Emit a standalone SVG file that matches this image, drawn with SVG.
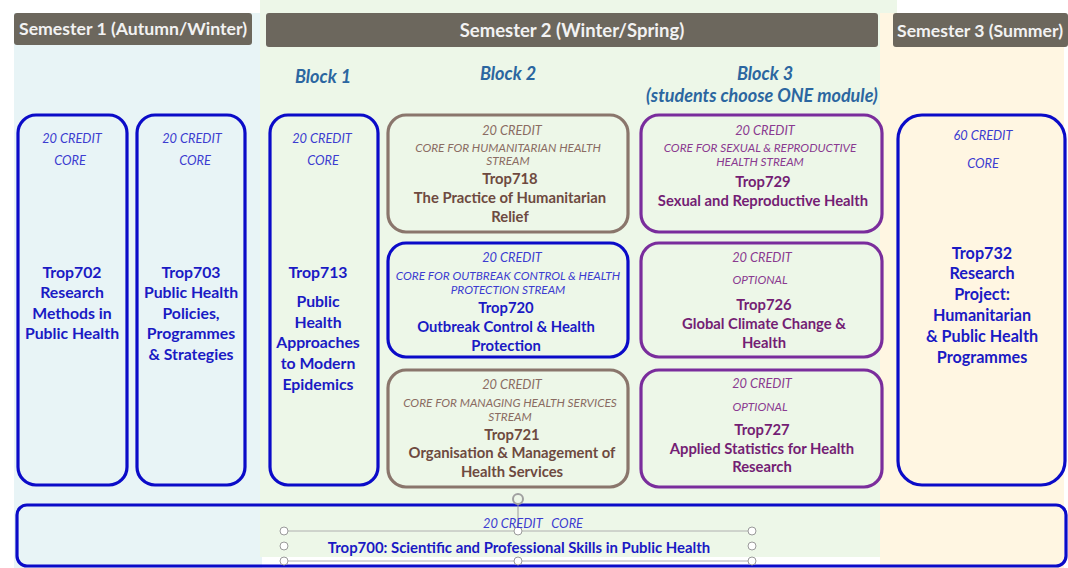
<svg xmlns="http://www.w3.org/2000/svg" width="1068" height="568" viewBox="0 0 1068 568">
<style>
text{font-family:Lato,"Open Sans","Liberation Sans",sans-serif;text-anchor:middle}
.hdr{fill:#6c675d}
.htx{fill:#f2f2f2;font-weight:bold;font-size:17.5px}
.blk{fill:#2b66a0;font-weight:bold;font-style:italic;font-size:18px}
.bx{fill:none;stroke-width:3.2}
.blue{stroke:#0b0bc8}
.brown{stroke:#8a766c}
.purple{stroke:#7a2d9c}
.cr{font-style:italic;font-size:12.8px}
.sm{font-style:italic;font-size:11.8px}
.t{font-weight:bold;font-size:14.8px}
.tc{font-weight:bold;font-size:15.8px}
.tr{font-weight:bold;font-size:16.2px}
.cb{fill:#3c3cd0}
.tb{fill:#1a1ac4}
.cbr{fill:#8a6c62}
.tbr{fill:#6e4a40}
.cp{fill:#8a3a90}
.tp{fill:#741e74}
.h{fill:#fff;stroke:#9a9a9a;stroke-width:1}
</style>
<rect width="1068" height="568" fill="#fff"/>
<g id="panels">
<rect x="14" y="13" width="248" height="555" fill="#e8f4f6"/>
<rect x="260" y="0" width="637" height="557" fill="#edf7e8"/>
<rect x="880" y="13" width="184" height="555" fill="#fff6e2"/>
</g>
<g id="headers">
<rect class="hdr" x="14" y="13" width="238" height="32" rx="3"/>
<text class="htx" x="133" y="35" textLength="228" lengthAdjust="spacingAndGlyphs">Semester 1 (Autumn/Winter)</text>
<rect class="hdr" x="266" y="13" width="612" height="34" rx="3"/>
<text class="htx" x="572" y="37" style="font-size:18.5px">Semester 2 (Winter/Spring)</text>
<rect class="hdr" x="893" y="13" width="175" height="34" rx="3"/>
<text class="htx" x="980" y="37" textLength="166" lengthAdjust="spacingAndGlyphs">Semester 3 (Summer)</text>
<text class="blk" x="323" y="83">Block 1</text>
<text class="blk" x="508" y="80">Block 2</text>
<text class="blk" x="765" y="80">Block 3</text>
<text class="blk" x="762" y="102">(students choose ONE module)</text>
</g>
<g id="trop702">
<rect class="bx blue" x="18" y="115" width="109" height="370" rx="18"/>
<text class="cr cb" x="72" y="143">20 CREDIT</text>
<text class="cr cb" x="70" y="165">CORE</text>
<text class="tc tb" x="72" y="278">Trop702</text>
<text class="tc tb" x="72" y="298">Research</text>
<text class="tc tb" x="72" y="319">Methods in</text>
<text class="tc tb" x="72" y="339">Public Health</text>
</g>
<g id="trop703">
<rect class="bx blue" x="137" y="115" width="108" height="370" rx="18"/>
<text class="cr cb" x="192" y="143">20 CREDIT</text>
<text class="cr cb" x="195" y="165">CORE</text>
<text class="tc tb" x="191" y="278">Trop703</text>
<text class="tc tb" x="191" y="298">Public Health</text>
<text class="tc tb" x="191" y="319">Policies,</text>
<text class="tc tb" x="191" y="339">Programmes</text>
<text class="tc tb" x="191" y="360">&amp; Strategies</text>
</g>
<g id="trop713">
<rect class="bx blue" x="270" y="115" width="108" height="370" rx="18"/>
<text class="cr cb" x="322" y="143">20 CREDIT</text>
<text class="cr cb" x="323" y="165">CORE</text>
<text class="tc tb" x="318" y="278">Trop713</text>
<text class="tc tb" x="318" y="307">Public</text>
<text class="tc tb" x="318" y="328">Health</text>
<text class="tc tb" x="318" y="348">Approaches</text>
<text class="tc tb" x="318" y="369">to Modern</text>
<text class="tc tb" x="318" y="390">Epidemics</text>
</g>
<g id="trop718">
<rect class="bx brown" x="388" y="115" width="240" height="117" rx="18"/>
<text class="cr cbr" x="512" y="135">20 CREDIT</text>
<text class="sm cbr" x="508" y="152">CORE FOR HUMANITARIAN HEALTH</text>
<text class="sm cbr" x="508" y="165">STREAM</text>
<text class="t tbr" x="510" y="184">Trop718</text>
<text class="t tbr" x="510" y="203">The Practice of Humanitarian</text>
<text class="t tbr" x="510" y="222">Relief</text>
</g>
<g id="trop720">
<rect class="bx blue" x="388" y="243" width="240" height="114" rx="18"/>
<text class="cr cb" x="512" y="262">20 CREDIT</text>
<text class="sm cb" x="508" y="280">CORE FOR OUTBREAK CONTROL &amp; HEALTH</text>
<text class="sm cb" x="508" y="294">PROTECTION STREAM</text>
<text class="t tb" x="506" y="313">Trop720</text>
<text class="t tb" x="506" y="332">Outbreak Control &amp; Health</text>
<text class="t tb" x="506" y="351">Protection</text>
</g>
<g id="trop721">
<rect class="bx brown" x="388" y="370" width="240" height="117" rx="18"/>
<text class="cr cbr" x="512" y="389">20 CREDIT</text>
<text class="sm cbr" x="510" y="407">CORE FOR MANAGING HEALTH SERVICES</text>
<text class="sm cbr" x="510" y="421">STREAM</text>
<text class="t tbr" x="512" y="440">Trop721</text>
<text class="t tbr" x="512" y="458">Organisation &amp; Management of</text>
<text class="t tbr" x="512" y="477">Health Services</text>
</g>
<g id="trop729">
<rect class="bx purple" x="641" y="115" width="241" height="117" rx="18"/>
<text class="cr cp" x="765" y="135">20 CREDIT</text>
<text class="sm cp" x="760" y="152">CORE FOR SEXUAL &amp; REPRODUCTIVE</text>
<text class="sm cp" x="760" y="166">HEALTH STREAM</text>
<text class="t tp" x="763" y="187">Trop729</text>
<text class="t tp" x="763" y="206">Sexual and Reproductive Health</text>
</g>
<g id="trop726">
<rect class="bx purple" x="641" y="243" width="241" height="114" rx="18"/>
<text class="cr cp" x="762" y="262">20 CREDIT</text>
<text class="sm cp" x="760" y="284">OPTIONAL</text>
<text class="t tp" x="764" y="310">Trop726</text>
<text class="t tp" x="764" y="329">Global Climate Change &amp;</text>
<text class="t tp" x="764" y="348">Health</text>
</g>
<g id="trop727">
<rect class="bx purple" x="641" y="370" width="241" height="117" rx="18"/>
<text class="cr cp" x="762" y="388">20 CREDIT</text>
<text class="sm cp" x="760" y="411">OPTIONAL</text>
<text class="t tp" x="762" y="435">Trop727</text>
<text class="t tp" x="762" y="454">Applied Statistics for Health</text>
<text class="t tp" x="762" y="472">Research</text>
</g>
<g id="trop732">
<rect class="bx blue" x="898" y="115" width="167" height="370" rx="24"/>
<text class="cr cb" x="983" y="140">60 CREDIT</text>
<text class="cr cb" x="983" y="168">CORE</text>
<text class="tr tb" x="982" y="259">Trop732</text>
<text class="tr tb" x="982" y="279">Research</text>
<text class="tr tb" x="982" y="300">Project:</text>
<text class="tr tb" x="982" y="321">Humanitarian</text>
<text class="tr tb" x="982" y="342">&amp; Public Health</text>
<text class="tr tb" x="982" y="363">Programmes</text>
</g>
<g id="trop700">
<rect class="bx blue" x="17" y="505" width="1049" height="61" rx="10"/>
<g id="selection">
<line x1="284" y1="531" x2="752" y2="531" stroke="#b0b0b0" stroke-width="1"/>
<line x1="284" y1="561" x2="752" y2="561" stroke="#b0b0b0" stroke-width="1"/>
<line x1="518" y1="503" x2="518" y2="531" stroke="#9a9a9a" stroke-width="1"/>
<circle cx="518" cy="499" r="5" fill="none" stroke="#a0a0a0" stroke-width="2"/>
<circle class="h" cx="284" cy="531" r="4"/>
<circle class="h" cx="284" cy="546" r="4"/>
<circle class="h" cx="284" cy="561" r="4"/>
<circle class="h" cx="518" cy="531" r="4"/>
<circle class="h" cx="518" cy="561" r="4"/>
<circle class="h" cx="752" cy="531" r="4"/>
<circle class="h" cx="752" cy="546" r="4"/>
<circle class="h" cx="752" cy="561" r="4"/>
</g>
<text class="cr cb" x="533" y="528" xml:space="preserve">20 CREDIT   CORE</text>
<text class="t tb" x="519" y="553" style="font-size:14.9px">Trop700: Scientific and Professional Skills in Public Health</text>
</g>
</svg>
